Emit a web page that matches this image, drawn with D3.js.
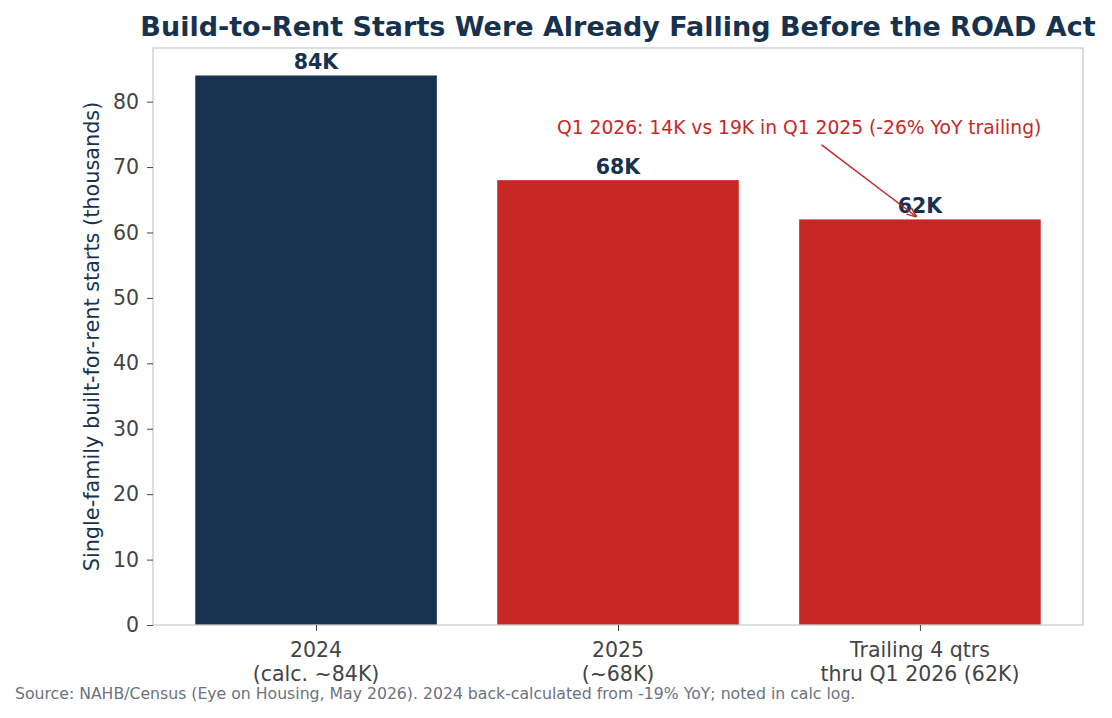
<!DOCTYPE html>
<html>
<head>
<meta charset="utf-8">
<script src="https://cdn.jsdelivr.net/npm/d3@7"></script>
<style>
  body { margin: 0; background: #fff; }
  svg { display: block; font-family: "DejaVu Sans", sans-serif; }
</style>
</head>
<body>
<div id="chart"></div>
<script>
// chart data
var categories = ['2024', '2025', 'Trailing 4 qtrs'];
var tickLines = [['2024', '(calc. ~84K)'], ['2025', '(~68K)'], ['Trailing 4 qtrs', 'thru Q1 2026 (62K)']];
var starts = [84, 68, 62];
var valueLabels = ['84K', '68K', '62K'];
var barColors = ['#17324f', '#c62828', '#c62828'];
var yTicks = [0, 10, 20, 30, 40, 50, 60, 70, 80];

var W = 1112, H = 718;
var margin = {top: 48, right: 29, bottom: 93, left: 153};
var innerW = W - margin.left - margin.right;
var innerH = H - margin.top - margin.bottom;

var svg = d3.select('#chart').append('svg')
  .attr('width', W)
  .attr('height', H);

var g = svg.append('g')
  .attr('transform', 'translate(' + margin.left + ',' + margin.top + ')');

// bars sit at 0..n-1, width .8, 5% margins on each side
var n = categories.length;
var xMin = -0.4 - 0.05 * (n - 1 + 0.8), xMax = n - 1 + 0.4 + 0.05 * (n - 1 + 0.8);
var x = d3.scaleLinear().domain([xMin, xMax]).range([0, innerW]);
var y = d3.scaleLinear().domain([0, d3.max(starts) * 1.05]).range([innerH, 0]);
var bw = x(0.8) - x(0);

g.selectAll('rect.bar')
  .data(starts)
  .enter()
  .append('rect')
  .attr('class', 'bar')
  .attr('x', function(d, i){ return x(i) - bw / 2; })
  .attr('y', function(d){ return y(d); })
  .attr('width', bw)
  .attr('height', function(d){ return innerH - y(d); })
  .attr('fill', function(d, i){ return barColors[i]; });

g.selectAll('text.val')
  .data(starts)
  .enter()
  .append('text')
  .attr('class', 'val')
  .attr('x', function(d, i){ return x(i); })
  .attr('y', function(d){ return y(d) - 6.5; })
  .attr('text-anchor', 'middle')
  .attr('font-size', '20.5px')
  .attr('font-weight', 'bold')
  .attr('fill', '#17324f')
  .text(function(d, i){ return valueLabels[i]; });

// frame
g.append('rect')
  .attr('width', innerW)
  .attr('height', innerH)
  .attr('fill', 'none')
  .attr('stroke', '#cccccc')
  .attr('stroke-width', 1.3);

// y axis
var yAxis = g.append('g')
  .call(d3.axisLeft(y).tickValues(yTicks).tickSize(6).tickPadding(8));
yAxis.select('.domain').remove();
yAxis.selectAll('line').attr('stroke', '#444');
yAxis.selectAll('text')
  .attr('font-size', '20.5px')
  .attr('fill', '#444')
  .attr('font-family', '"DejaVu Sans", sans-serif');

// x axis
var xAxis = g.append('g')
  .attr('transform', 'translate(0,' + innerH + ')')
  .call(d3.axisBottom(x).tickValues(d3.range(n)).tickSize(6).tickFormat(''));
xAxis.select('.domain').remove();
xAxis.selectAll('line').attr('stroke', '#444');

var xl = g.selectAll('text.xlab')
  .data(tickLines)
  .enter()
  .append('text')
  .attr('class', 'xlab')
  .attr('text-anchor', 'middle')
  .attr('font-size', '20.5px')
  .attr('fill', '#444')
  .attr('transform', function(d, i){ return 'translate(' + x(i) + ',' + (innerH + 32) + ')'; });
xl.selectAll('tspan')
  .data(function(d){ return d; })
  .enter()
  .append('tspan')
  .attr('x', 0)
  .attr('dy', function(d, j){ return j === 0 ? 0 : 23.5; })
  .text(function(d){ return d; });

// y label
svg.append('text')
  .attr('transform', 'translate(99,' + (margin.top + innerH / 2) + ') rotate(-90)')
  .attr('text-anchor', 'middle')
  .attr('font-size', '20.8px')
  .attr('fill', '#17324f')
  .text('Single-family built-for-rent starts (thousands)');

// title
svg.append('text')
  .attr('x', margin.left + innerW / 2)
  .attr('y', 36)
  .attr('text-anchor', 'middle')
  .attr('font-size', '27px')
  .attr('font-weight', 'bold')
  .attr('fill', '#17324f')
  .text('Build-to-Rent Starts Were Already Falling Before the ROAD Act');

// annotation
var noteX = 1.6, noteY = 76;
svg.append('defs').append('marker')
  .attr('id', 'arrow')
  .attr('viewBox', '0 0 10 10')
  .attr('refX', 10).attr('refY', 5)
  .attr('markerWidth', 10).attr('markerHeight', 10)
  .attr('markerUnits', 'userSpaceOnUse')
  .attr('orient', 'auto')
  .append('path')
  .attr('d', 'M0,1 L10,5 L0,9')
  .attr('fill', 'none')
  .attr('stroke', '#c62828')
  .attr('stroke-width', 1.5);

var tx = x(noteX), ty = y(noteY), px = x(2), py = y(62);
var t0 = 17 / (py - ty);
var t1 = 1 - 4 / Math.hypot(px - tx, py - ty);
g.append('line')
  .attr('x1', tx + (px - tx) * t0)
  .attr('y1', ty + (py - ty) * t0)
  .attr('x2', tx + (px - tx) * t1)
  .attr('y2', ty + (py - ty) * t1)
  .attr('stroke', '#c62828')
  .attr('stroke-width', 1.5)
  .attr('marker-end', 'url(#arrow)');

g.append('text')
  .attr('x', tx)
  .attr('y', ty)
  .attr('dy', '0.35em')
  .attr('text-anchor', 'middle')
  .attr('font-size', '18.7px')
  .attr('fill', '#c62828')
  .text('Q1 2026: 14K vs 19K in Q1 2025 (-26% YoY trailing)');

// source
svg.append('text')
  .attr('x', 15)
  .attr('y', 699)
  .attr('font-size', '15.7px')
  .attr('fill', '#6b7280')
  .text('Source: NAHB/Census (Eye on Housing, May 2026). 2024 back-calculated from -19% YoY; noted in calc log.');
</script>
</body>
</html>
